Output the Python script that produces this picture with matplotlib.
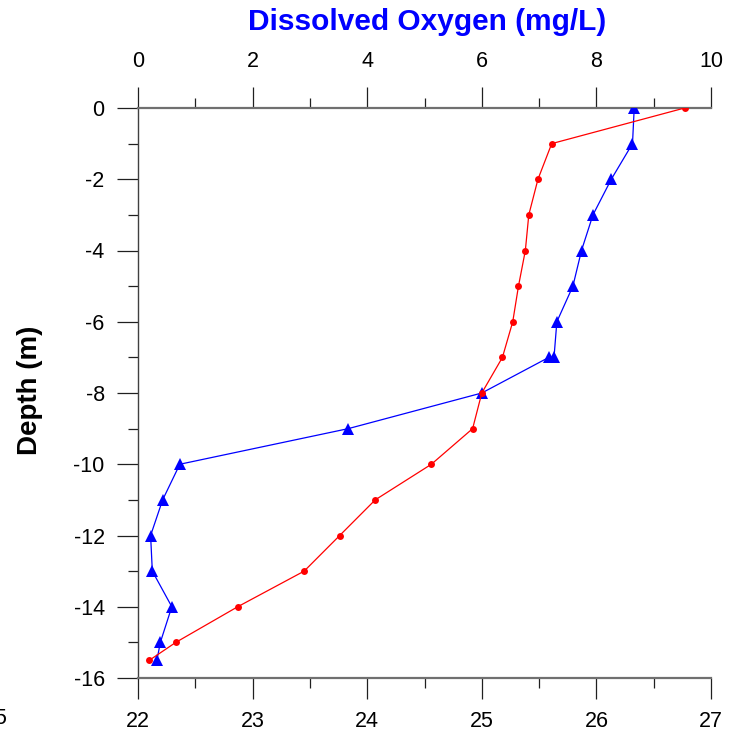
import numpy as np
import matplotlib
matplotlib.use('Agg')
import matplotlib.pyplot as plt
from matplotlib.ticker import MultipleLocator

plt.rcParams['font.family'] = ['Liberation Sans', 'DejaVu Sans']
plt.rcParams['axes.unicode_minus'] = False

# temperature profile (bottom axis)
temp_depth = [0, -1, -2, -3, -4, -5, -6, -7, -8, -9, -10, -11, -12, -13, -14, -15, -15.5]
temp = [26.77, 25.61, 25.49, 25.41, 25.38, 25.32, 25.27, 25.18, 25.0, 24.92,
        24.56, 24.07, 23.76, 23.45, 22.87, 22.33, 22.10]

# dissolved oxygen profile (top axis)
do_depth = [0, -1, -2, -3, -4, -5, -6, -7, -7, -8, -9, -10, -11, -12, -13, -14, -15, -15.5]
do_vals = [8.66, 8.63, 8.26, 7.94, 7.74, 7.59, 7.31, 7.26, 7.17, 6.0, 3.67,
           0.73, 0.43, 0.22, 0.25, 0.59, 0.39, 0.33]

do_ticks = [0, 2, 4, 6, 8, 10]
temp_ticks = [22, 23, 24, 25, 26, 27]
depth_ticks = [0, -2, -4, -6, -8, -10, -12, -14, -16]

fig = plt.figure(figsize=(7.4, 7.35), dpi=100)
W, H = 740.0, 735.0
ax = fig.add_axes([138 / W, 1 - 678 / H, (711 - 138) / W, (678 - 108) / H])
ax.patch.set_alpha(0)
ax2 = ax.twiny()

# DO on top axis
ax.plot(do_vals, do_depth, color='#0000ff', lw=0.9, marker='^', ms=9,
        markeredgewidth=0, zorder=3)
ax.set_xlim(0, 10)
ax.set_ylim(-16, 0)
ax.xaxis.set_ticks_position('top')
ax.xaxis.set_label_position('top')
ax.set_xticks(do_ticks)
ax.xaxis.set_minor_locator(MultipleLocator(1))
ax.set_yticks(depth_ticks)
ax.yaxis.set_minor_locator(MultipleLocator(1))

# temperature on bottom axis
ax2.plot(temp, temp_depth, color='#ff0000', lw=0.9, marker='o', ms=5,
         markeredgewidth=0, zorder=2)
ax2.set_xlim(22, 27)
ax2.xaxis.set_ticks_position('bottom')
ax2.set_xticks(temp_ticks)
ax2.xaxis.set_minor_locator(MultipleLocator(0.5))

for a in (ax, ax2):
    for s in a.spines.values():
        s.set_visible(False)
ax.spines['left'].set_visible(True)
ax.spines['left'].set_color('#404040')
ax.spines['left'].set_linewidth(1.0)
ax.spines['top'].set_visible(True)
ax.spines['top'].set_color('#707070')
ax.spines['top'].set_linewidth(1.6)
ax2.spines['bottom'].set_visible(True)
ax2.spines['bottom'].set_color('#707070')
ax2.spines['bottom'].set_linewidth(1.6)

ax.tick_params(axis='x', which='major', direction='out', length=15, width=0.9,
               pad=11, labelsize=15.5, color='#202020')
ax.tick_params(axis='x', which='minor', direction='out', length=7, width=0.9,
               color='#202020')
ax.tick_params(axis='y', which='major', direction='out', length=15, width=0.9,
               pad=9, labelsize=15.5, color='#202020')
ax.tick_params(axis='y', which='minor', direction='out', length=7, width=0.9,
               color='#202020')
ax2.tick_params(axis='x', which='major', direction='out', length=15, width=0.9,
                pad=9, labelsize=15.5, color='#202020')
ax2.tick_params(axis='x', which='minor', direction='out', length=7, width=0.9,
                color='#202020')

fig.text(427 / W, 1 - 22 / H, 'Dissolved Oxygen (mg/L)', color='#0000ff',
         fontsize=21.5, fontweight='bold', ha='center', va='center')
fig.text(30 / W, 1 - 390 / H, 'Depth (m)', fontsize=20, fontweight='bold',
         rotation=90, ha='center', va='center')
# clipped leftover label at the lower-left edge, as in the source image
fig.text(0.0, 1 - 718 / H, '5', fontsize=15.5, ha='center', va='center')

fig.savefig('out.png', dpi=100)
